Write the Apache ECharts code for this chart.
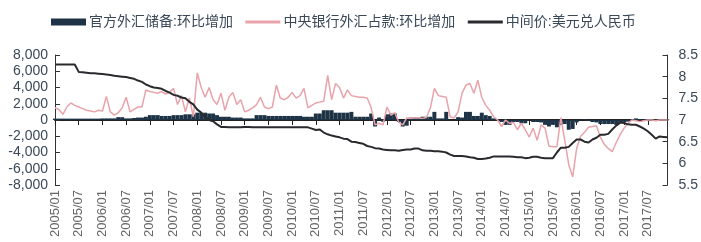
<!DOCTYPE html>
<html>
<head>
<meta charset="utf-8">
<script src="https://cdn.jsdelivr.net/npm/echarts@6/dist/echarts.min.js"></script>
<style>
html, body { margin: 0; padding: 0; background: #fff; }
#chart { width: 701px; height: 242px; }
</style>
</head>
<body>
<div id="chart"></div>
<script>
// months 2005/01 .. 2017/12
var months = [];
for (var y = 2005; y <= 2017; y++) {
    for (var m = 1; m <= 12; m++) {
        months.push(y + '/' + (m < 10 ? '0' + m : m));
    }
}

// 官方外汇储备:环比增加
var reserveChange = [
    170, 170, 170, 170, 170, 170, 170, 170, 170, 170, 170, 170,
    200, 200, 200, 200, 350, 350, 200, 200, 250, 300, 300, 400,
    600, 600, 600, 500, 500, 500, 600, 600, 600, 700, 700, 700,
    900, 900, 900, 800, 800, 600, 400, 400, 400, 300, 300, 300,
    200, 200, 200, 600, 600, 600, 500, 500, 500, 500, 500, 500,
    500, 500, 500, 400, 400, 400, 800, 800, 1200, 1200, 1200, 900,
    900, 900, 900, 1000, 400, 400, 400, 400, 800, -800, 300, -200,
    700, 800, 800, -250, -800, -700, 300, 300, 300, 400, 400, 400,
    1000, 200, 200, 1000, 0, 0, 350, 300, 1000, 1000, 500, 500,
    900, 600, 500, 200, 100, -250, -600, -600, -250, -250, -400, -400,
    0, -250, -250, -300, -600, -800, -600, -900, -600, -500, -1200, -1100,
    -300, 0, 100, -100, -250, -300, -500, -500, -500, -500, -600, -400,
    -300, -200, 100, 200, 100, 50, 100, 100, 0, -50, 100, 50
];

// 中央银行外汇占款:环比增加
var fxHoldingChange = [
    1500, 1300, 700, 1600, 2100, 1800, 1600, 1400, 1200, 1100, 1000, 1200,
    1100, 2900, 1000, 600, 900, 1500, 2800, 1000, 1300, 1600, 1600, 3700,
    3500, 3400, 3300, 3500, 3200, 3400, 3900, 1900, 3000, 1000, 2700, 400,
    5800, 4000, 2800, 4000, 2500, 1900, 3300, 1200, 2800, 3400, 1900, 2500,
    1000, 1200, 1500, 1900, 2800, 1600, 1400, 1600, 4300, 2700, 2500, 2800,
    3400, 2700, 3000, 3900, 1500, 1800, 2100, 2200, 2300, 5500, 2500, 4500,
    4000, 2700, 3700, 3000, 2900, 2800, 2800, 2700, 1500, -600, -400, -600,
    1600, 600, 900, -300, -600, 250, 200, 250, 250, 200, 300, 1500,
    3900, 3000, 2900, 2800, 400, 250, 1000, 3300, 4300, 4500, 3300, 4900,
    2800, 1800, 1200, 400, 0, -800, 0, -400, -300, -1200, -400, -1200,
    -2100, -1000, -2500, -600, -1000, -3200, -3300, -3300, 300, -2500, -5500, -7000,
    -3500, -2000, -1500, -900, -800, -700, -2100, -3000, -3500, -3900, -2800, -1800,
    -1000, -400, 0, -100, -200, -100, 0, 0, -100, 0, 0, 0
];

// 中间价:美元兑人民币
var usdCny = [
    8.28, 8.28, 8.28, 8.28, 8.28, 8.28, 8.11, 8.10, 8.09, 8.08, 8.08, 8.07,
    8.06, 8.05, 8.04, 8.02, 8.01, 8.00, 7.99, 7.97, 7.95, 7.91, 7.88, 7.82,
    7.78, 7.75, 7.74, 7.72, 7.67, 7.63, 7.58, 7.56, 7.52, 7.50, 7.42, 7.36,
    7.24, 7.17, 7.07, 7.00, 6.97, 6.90, 6.84, 6.84, 6.83, 6.83, 6.83, 6.83,
    6.84, 6.84, 6.83, 6.83, 6.83, 6.83, 6.83, 6.83, 6.83, 6.83, 6.83, 6.83,
    6.83, 6.83, 6.83, 6.83, 6.83, 6.80, 6.77, 6.78, 6.71, 6.67, 6.64, 6.62,
    6.60, 6.57, 6.56, 6.50, 6.49, 6.47, 6.45, 6.40, 6.38, 6.35, 6.34, 6.32,
    6.31, 6.30, 6.30, 6.29, 6.31, 6.32, 6.32, 6.34, 6.34, 6.30, 6.29, 6.29,
    6.28, 6.28, 6.27, 6.25, 6.20, 6.17, 6.17, 6.17, 6.16, 6.14, 6.13, 6.10,
    6.10, 6.11, 6.13, 6.16, 6.16, 6.16, 6.16, 6.16, 6.15, 6.14, 6.14, 6.12,
    6.13, 6.15, 6.15, 6.13, 6.12, 6.12, 6.12, 6.25, 6.36, 6.36, 6.38, 6.47,
    6.55, 6.55, 6.50, 6.48, 6.55, 6.59, 6.66, 6.66, 6.68, 6.78, 6.87, 6.94,
    6.93, 6.90, 6.89, 6.89, 6.85, 6.80, 6.74, 6.66, 6.57, 6.62, 6.61, 6.60
];

var leftTicks = { min: -8000, max: 8000, step: 2000 };
var rightTicks = { min: 5.5, max: 8.5, step: 0.5 };

var txt = '#3a4858';
var font = '"Liberation Sans", Arial, "Noto Sans CJK SC", sans-serif';
var pink = '#e9a3aa';
var dark = '#2a2a2e';

var chart = echarts.init(document.getElementById('chart'));
chart.setOption({
    animation: false,
    textStyle: { fontFamily: font },
    legend: {
        top: 10,
        left: 46,
        itemGap: 11,
        itemWidth: 35,
        itemHeight: 7,
        textStyle: { fontSize: 14, color: txt, fontFamily: font, padding: [0, 0, 0, -2] },
        data: [
            { name: '官方外汇储备:环比增加', icon: 'rect' },
            { name: '中央银行外汇占款:环比增加', itemStyle: { opacity: 0 }, lineStyle: { width: 3 } },
            { name: '中间价:美元兑人民币', itemStyle: { opacity: 0 }, lineStyle: { width: 3 } }
        ]
    },
    grid: { left: 55, right: 33, top: 55, bottom: 57 },
    xAxis: [{
        type: 'category',
        data: months,
        boundaryGap: false,
        axisLine: { onZero: true, lineStyle: { color: '#222', width: 2 } },
        axisTick: { show: true, interval: 5, length: 5, lineStyle: { color: '#222' } },
        axisLabel: { show: false },
        splitLine: { show: false }
    }, {
        type: 'category',
        data: months,
        boundaryGap: false,
        position: 'bottom',
        axisLine: { show: false, onZero: false },
        axisTick: { show: false },
        axisLabel: { interval: 5, rotate: 90, fontSize: 13, color: '#666', margin: 5 }
    }],
    yAxis: [{
        type: 'value',
        min: leftTicks.min, max: leftTicks.max, interval: leftTicks.step,
        axisLine: { show: true, lineStyle: { color: '#333' } },
        axisTick: { show: true, inside: true, length: 5, lineStyle: { color: '#333' } },
        axisLabel: { fontSize: 14, color: txt, margin: 7 },
        splitLine: { show: false }
    }, {
        type: 'value',
        min: rightTicks.min, max: rightTicks.max, interval: rightTicks.step,
        axisLine: { show: true, lineStyle: { color: '#333' } },
        axisTick: { show: true, inside: true, length: 5, lineStyle: { color: '#333' } },
        axisLabel: { fontSize: 14, color: txt, margin: 11 },
        splitLine: { show: false }
    }],
    series: [{
        name: '官方外汇储备:环比增加',
        type: 'bar',
        data: reserveChange,
        barWidth: '100%',
        itemStyle: { color: '#1e3446' }
    }, {
        name: '中央银行外汇占款:环比增加',
        type: 'line',
        data: fxHoldingChange,
        symbol: 'none',
        lineStyle: { color: pink, width: 1.5 },
        itemStyle: { color: pink }
    }, {
        name: '中间价:美元兑人民币',
        type: 'line',
        yAxisIndex: 1,
        data: usdCny,
        symbol: 'none',
        lineStyle: { color: dark, width: 2 },
        itemStyle: { color: dark }
    }]
});
</script>
</body>
</html>
